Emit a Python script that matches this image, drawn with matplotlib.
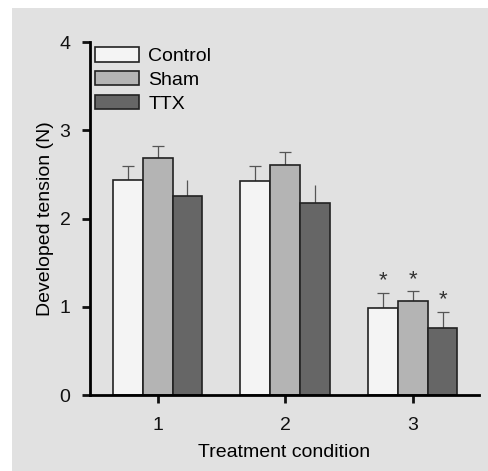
import numpy as np
import matplotlib
matplotlib.use('Agg')
import matplotlib.pyplot as plt
from matplotlib.patches import Rectangle

# Data
conditions = [1, 2, 3]
control = [2.44, 2.43, 0.99]
sham = [2.68, 2.61, 1.06]
ttx = [2.25, 2.17, 0.76]
control_err = [0.16, 0.16, 0.17]
sham_err = [0.14, 0.14, 0.12]
ttx_err = [0.19, 0.21, 0.18]
star_y = [1.30, 1.31, 1.08]  # condition 3 only: control, sham, ttx

plt.rcParams['font.family'] = ['Liberation Sans', 'DejaVu Sans']

W, H = 488, 471
fig = plt.figure(figsize=(W / 100, H / 100), dpi=100)
fig.patch.set_facecolor('white')
# grey panel behind the plot
fig.patches.append(Rectangle((12 / W, 0), 1 - 12 / W, 1 - 8 / H,
                             transform=fig.transFigure, facecolor='#e1e1e1',
                             edgecolor='none', zorder=-10))

ax = fig.add_axes([90 / W, 1 - 395 / H, (479 - 90) / W, (395 - 42) / H])
ax.set_facecolor('none')

x = np.array(conditions, dtype=float)
w = 0.234
series = [('Control', control, control_err, '#f4f4f4'),
          ('Sham', sham, sham_err, '#b4b4b4'),
          ('TTX', ttx, ttx_err, '#666666')]

for i, (name, vals, err, col) in enumerate(series):
    xs = x + (i - 1) * w
    ax.bar(xs, vals, w, color=col, edgecolor='#222222', linewidth=1.2,
           label=name, zorder=2)
    for j in range(len(xs)):
        cap = 0 if (name == 'TTX' and j < 2) else 4
        ax.errorbar(xs[j], vals[j], yerr=[[0], [err[j]]], fmt='none',
                    ecolor='#555555', elinewidth=0.9, capsize=cap,
                    capthick=0.9, zorder=1)

# significance stars for condition 3
for i in range(3):
    ax.text(x[2] + (i - 1) * w, star_y[i], '*', ha='center', va='center',
            fontsize=16, color='#333333')

ax.set_xlim(0.47, 3.52)
ax.set_ylim(0, 4)
ax.set_xticks(conditions)
ax.set_yticks([0, 1, 2, 3, 4])
ax.spines['top'].set_visible(False)
ax.spines['right'].set_visible(False)
ax.spines['left'].set_linewidth(2)
ax.spines['bottom'].set_linewidth(2)
ax.tick_params(axis='both', width=2, length=6, labelsize=14, colors='#111111')
ax.tick_params(axis='y', pad=8)
ax.tick_params(axis='x', pad=10)

ax.set_xlabel('Treatment condition', fontsize=14, labelpad=7)
ax.set_ylabel('Developed tension (N)', fontsize=14, labelpad=4)

leg = ax.legend(loc='upper left', bbox_to_anchor=(-0.018, 1.018), frameon=False,
                fontsize=14, handlelength=2.3, handleheight=0.75,
                handletextpad=0.45, labelspacing=0.3, borderaxespad=0.2)

fig.savefig('out.png', dpi=100)
